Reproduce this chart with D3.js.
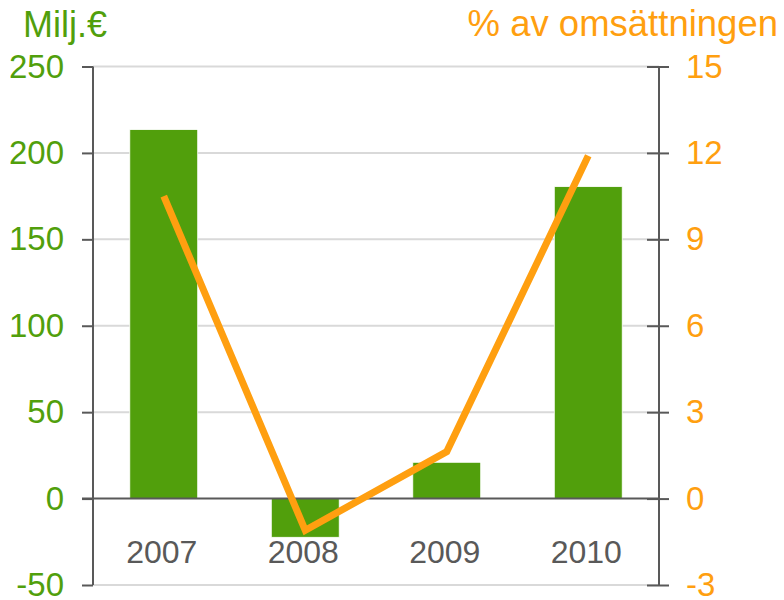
<!DOCTYPE html>
<meta charset="utf-8">
<script src="https://d3js.org/d3.v7.min.js"></script>
<style>
    body { margin: 0; background: #fff; }
    text { font-family: "Liberation Sans", Arial, sans-serif; }
</style>
<div id="my_dataviz"></div>
<script>
    // data
    var years = ["2007", "2008", "2009", "2010"];
    var profit = [213.5, -22.4, 21, 180.5];        // Milj.€ (bars)
    var margin_pct = [10.5, -1.1, 1.63, 11.9];     // % av omsättningen (line)
    var leftTicks = [-50, 0, 50, 100, 150, 200, 250];
    var rightTicks = [-3, 0, 3, 6, 9, 12, 15];

    var green = "#519f0c",
        orange = "#ff9f10",
        axisGrey = "#595959";

    var margin = { top: 66.5, right: 125, bottom: 15, left: 93 },
        width = 784 - margin.left - margin.right,
        height = 600 - margin.top - margin.bottom;

    var svg = d3.select("#my_dataviz")
        .append("svg")
        .attr("width", 784)
        .attr("height", 600)
        .append("g")
        .attr("transform", "translate(" + margin.left + "," + margin.top + ")");

    var x = d3.scaleBand()
        .domain(years)
        .range([0, width])
        .paddingInner(0.52)
        .paddingOuter(0.26);

    var y = d3.scaleLinear().domain([-50, 250]).range([height, 0]);
    var y2 = d3.scaleLinear().domain([-3, 15]).range([height, 0]);

    var plain = function (d) { return String(d); };   // hyphen minus like the original

    // gridlines
    svg.append("g")
        .selectAll("line")
        .data(leftTicks.filter(function (d) { return d !== 0; }))
        .enter()
        .append("line")
        .attr("x1", 0)
        .attr("x2", width)
        .attr("y1", function (d) { return y(d); })
        .attr("y2", function (d) { return y(d); })
        .style("stroke", "#d9d9d9")
        .style("stroke-width", 2);

    // bars
    svg.append("g")
        .selectAll("rect")
        .data(years)
        .enter()
        .append("rect")
        .attr("x", function (d) { return x(d); })
        .attr("width", x.bandwidth())
        .attr("y", function (d, i) { return y(Math.max(0, profit[i])); })
        .attr("height", function (d, i) { return Math.abs(y(profit[i]) - y(0)); })
        .style("fill", green)
        .style("stroke", "#fff")
        .style("stroke-width", 0.8);

    // zero line
    svg.append("line")
        .attr("x1", -11)
        .attr("x2", width)
        .attr("y1", y(0))
        .attr("y2", y(0))
        .style("stroke", axisGrey)
        .style("stroke-width", 2);

    // left axis
    var leftAxis = svg.append("g")
        .call(d3.axisLeft(y).tickValues(leftTicks).tickFormat(plain).tickSize(11).tickPadding(18));
    leftAxis.select(".domain").remove();
    leftAxis.append("line")
        .attr("x1", 0).attr("x2", 0)
        .attr("y1", 0).attr("y2", height)
        .style("stroke", axisGrey)
        .style("stroke-width", 2);
    leftAxis.selectAll(".tick line").style("stroke", axisGrey).style("stroke-width", 2);
    leftAxis.selectAll(".tick text")
        .style("fill", green)
        .style("font-size", "33px")
        .style("font-family", "Liberation Sans, Arial, sans-serif");

    // right axis (ticks cross the line)
    var rightAxis = svg.append("g")
        .attr("transform", "translate(" + width + ",0)")
        .call(d3.axisRight(y2).tickValues(rightTicks).tickFormat(plain).tickSize(10).tickPadding(17));
    rightAxis.select(".domain").remove();
    rightAxis.append("line")
        .attr("x1", 0).attr("x2", 0)
        .attr("y1", 0).attr("y2", height)
        .style("stroke", axisGrey)
        .style("stroke-width", 2);
    rightAxis.selectAll(".tick line")
        .attr("x1", -12)
        .style("stroke", axisGrey)
        .style("stroke-width", 2);
    rightAxis.selectAll(".tick text")
        .style("fill", orange)
        .style("font-size", "33px")
        .style("font-family", "Liberation Sans, Arial, sans-serif");

    // category labels
    svg.append("g")
        .selectAll("text")
        .data(years)
        .enter()
        .append("text")
        .attr("x", function (d) { return x(d) + x.bandwidth() / 2 - 2; })
        .attr("y", 563 - margin.top)
        .style("text-anchor", "middle")
        .style("fill", axisGrey)
        .style("font-size", "32px")
        .text(function (d) { return d; });

    // line series
    var line = d3.line()
        .x(function (d, i) { return x(years[i]) + x.bandwidth() / 2; })
        .y(function (d) { return y2(d); });

    svg.append("path")
        .datum(margin_pct)
        .attr("d", line)
        .style("fill", "none")
        .style("stroke", orange)
        .style("stroke-width", 7)
        .style("stroke-linejoin", "miter");

    // axis titles
    svg.append("text")
        .attr("x", 23 - margin.left)
        .attr("y", 37 - margin.top)
        .style("fill", green)
        .style("font-size", "36px")
        .text("Milj.€");

    svg.append("text")
        .attr("x", 778 - margin.left)
        .attr("y", 36 - margin.top)
        .style("text-anchor", "end")
        .style("fill", orange)
        .style("font-size", "36.5px")
        .text("% av omsättningen");
</script>
